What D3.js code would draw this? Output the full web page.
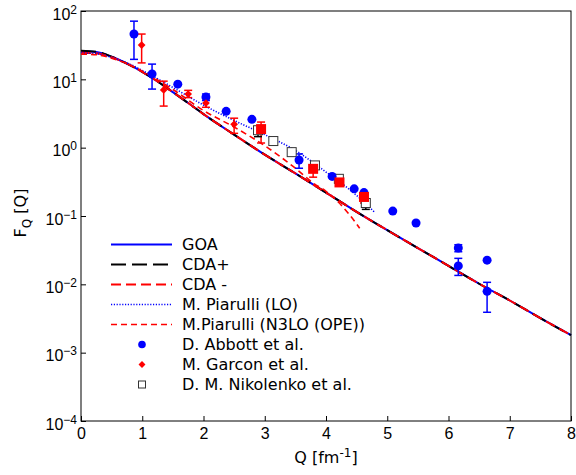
<!DOCTYPE html>
<html>
<head>
<meta charset="utf-8">
<script src="https://cdn.jsdelivr.net/npm/d3@7"></script>
<style>
  body { margin: 0; background: #fff; }
  svg { font-family: "DejaVu Sans", sans-serif; }
</style>
</head>
<body>
<svg id="area" width="576" height="475"></svg>
<script>
// theory curves
const qMain = [0, 0.25, 0.5, 0.75, 1, 1.25, 1.5, 1.75, 2, 2.5, 3, 3.5, 4, 4.5, 5, 5.5, 6, 6.5, 7, 7.5, 8];
const goa = [26.0, 25.1, 21.4, 17.0, 12.9, 9.3, 6.5, 4.5, 3.1, 1.55, 0.79, 0.42, 0.22, 0.115, 0.062, 0.034, 0.0186, 0.0102, 0.0058, 0.0032, 0.0018];
const cdaPlus = [26.3, 25.3, 21.5, 17.0, 12.9, 9.3, 6.5, 4.5, 3.1, 1.55, 0.79, 0.42, 0.22, 0.115, 0.062, 0.034, 0.0186, 0.0102, 0.0058, 0.0032, 0.0018];
const cdaMinus = [24.5, 24.0, 21.0, 17.0, 12.9, 9.3, 6.5, 4.5, 3.1, 1.55, 0.79, 0.42, 0.22, 0.115, 0.062, 0.034, 0.0186, 0.0102, 0.0058, 0.0032, 0.0018];
const qLO = [0, 0.25, 0.5, 0.75, 1, 1.5, 2, 2.5, 3, 3.5, 4, 4.5, 4.8];
const piarulliLO = [24.3, 23.7, 20.9, 17.4, 13.5, 7.6, 4.2, 2.5, 1.55, 0.91, 0.44, 0.20, 0.112];
const qN3LO = [0, 0.25, 0.5, 0.75, 1, 1.5, 2, 2.5, 3, 3.5, 3.8, 4.0, 4.2, 4.4, 4.55];
const piarulliN3LO = [23.4, 22.9, 20.4, 17.0, 13.2, 7.1, 3.5, 2.0, 1.07, 0.50, 0.30, 0.23, 0.16, 0.10, 0.066];

// data sets: Q, value, error low, error high (null = no bar)
const abbottQ   = [0.865, 1.16, 1.58, 2.04, 2.37, 2.79, 3.56, 4.10, 4.46, 4.62, 5.09, 5.47, 6.16, 6.16, 6.63, 6.63];
const abbottF   = [46, 12, 8.5, 5.5, 3.4, 2.6, 0.66, 0.38, 0.25, 0.22, 0.118, 0.079, 0.034, 0.0186, 0.0226, 0.0079];
const abbottLo  = [19.6, 7.2, null, 4.9, null, null, 0.50, null, null, null, null, null, 0.030, 0.0135, null, 0.0039];
const abbottHi  = [71, 16.7, null, 6.1, null, null, 0.81, null, null, null, null, null, 0.038, 0.024, null, 0.0107];

const garconQ  = [0.99, 1.35, 1.75, 2.04, 2.50];
const garconF  = [31.7, 7.0, 6.1, 4.5, 2.2];
const garconLo = [17.4, 4.06, 5.4, 3.9, 1.62];
const garconHi = [46, 9.4, 6.9, 5.2, 2.7];

const garconSqQ  = [2.94, 3.79, 4.22, 4.62];
const garconSqF  = [1.87, 0.49, 0.31, 0.19];
const garconSqLo = [1.17, 0.37, null, 0.155];
const garconSqHi = [2.37, 0.56, null, 0.22];

const nikoQ  = [2.89, 3.14, 3.44, 3.82, 4.21, 4.65];
const nikoF  = [1.80, 1.25, 0.86, 0.55, 0.35, 0.155];
const nikoLo = [1.45, null, null, null, null, 0.125];
const nikoHi = [null, null, null, null, null, null];

const yTicks = [-4, -3, -2, -1, 0, 1, 2];
const xTicks = [0, 1, 2, 3, 4, 5, 6, 7, 8];

const svg = d3.select("#area");
const pLeft = 81, pRight = 571, pTop = 11, pBottom = 421;

const x = d3.scaleLinear().domain([0, 8]).range([pLeft, pRight]);
const y = d3.scaleLog().domain([1e-4, 1e2]).range([pBottom, pTop]);

// axes
const xAxis = d3.axisBottom(x).tickValues(xTicks).tickSize(-5).tickPadding(7);
svg.append("g").attr("transform", "translate(0," + pBottom + ")").call(xAxis)
  .call(g => g.select(".domain").remove())
  .selectAll("text").attr("font-size", 16).attr("fill", "#000");

const yAxis = d3.axisLeft(y).tickValues(yTicks.map(e => Math.pow(10, e))).tickSize(-5).tickFormat("");
const yg = svg.append("g").attr("transform", "translate(" + pLeft + ",0)").call(yAxis);
yg.select(".domain").remove();
yg.selectAll(".tick").each(function(d, i) {
  const t = d3.select(this).append("text")
    .attr("x", -4).attr("y", 8)
    .attr("text-anchor", "end").attr("font-size", 16).attr("fill", "#000");
  const e = yTicks[i];
  t.append("tspan").text("10");
  t.append("tspan").attr("dy", -6).attr("font-size", 12).text(e < 0 ? "\u2212" + (-e) : e);
});

svg.append("rect").attr("x", pLeft).attr("y", pTop)
  .attr("width", pRight - pLeft).attr("height", pBottom - pTop)
  .attr("fill", "none").attr("stroke", "#000").attr("stroke-width", 1);

// labels
const xl = svg.append("text").attr("x", (pLeft + pRight) / 2).attr("y", 463)
  .attr("text-anchor", "middle").attr("font-size", 16);
xl.append("tspan").text("Q [fm");
xl.append("tspan").attr("dy", -6).attr("font-size", 12).text("-1");
xl.append("tspan").attr("dy", 6).text("]");

const yl = svg.append("text").attr("transform", "translate(26,213) rotate(-90)")
  .attr("text-anchor", "middle").attr("font-size", 16);
yl.append("tspan").text("F");
yl.append("tspan").attr("dy", 5).attr("font-size", 12).text("Q");
yl.append("tspan").attr("dy", -5).text(" [Q]");

const plot = svg.append("g");
const line = d3.line().x(d => x(d[0])).y(d => y(d[1])).curve(d3.curveMonotoneX);
const zip = (a, b) => a.map((v, i) => [v, b[i]]);

const curves = [
  { name: "GOA", q: qMain, f: goa, color: "#0000ff", width: 2, dash: null },
  { name: "CDA+", q: qMain, f: cdaPlus, color: "#000", width: 2, dash: "15,6" },
  { name: "CDA -", q: qMain, f: cdaMinus, color: "#ff0000", width: 2, dash: "10,5" },
  { name: "M. Piarulli (LO)", q: qLO, f: piarulliLO, color: "#0000ff", width: 1.6, dash: "1.2,1.6" },
  { name: "M.Piarulli (N3LO (OPE))", q: qN3LO, f: piarulliN3LO, color: "#ff0000", width: 1.6, dash: "6,4" }
];
curves.forEach(c => {
  plot.append("path").datum(zip(c.q, c.f)).attr("d", line)
    .attr("fill", "none").attr("stroke", c.color).attr("stroke-width", c.width)
    .attr("stroke-dasharray", c.dash);
});

// error bars
function errBars(qs, lo, hi, vals, color) {
  qs.forEach((q, i) => {
    const l = lo[i] == null ? vals[i] : lo[i];
    const h = hi[i] == null ? vals[i] : hi[i];
    if (l === h) return;
    const cx = x(q);
    plot.append("line").attr("x1", cx).attr("x2", cx).attr("y1", y(l)).attr("y2", y(h))
      .attr("stroke", color).attr("stroke-width", 1.5);
    [l, h].forEach(v => {
      if (v === vals[i]) return;
      plot.append("line").attr("x1", cx - 4).attr("x2", cx + 4).attr("y1", y(v)).attr("y2", y(v))
        .attr("stroke", color).attr("stroke-width", 1.5);
    });
  });
}
errBars(abbottQ, abbottLo, abbottHi, abbottF, "#0000ff");
errBars(garconQ, garconLo, garconHi, garconF, "#ff0000");
errBars(garconSqQ, garconSqLo, garconSqHi, garconSqF, "#ff0000");
errBars(nikoQ, nikoLo, nikoHi, nikoF, "#000");

plot.selectAll(".niko").data(zip(nikoQ, nikoF)).join("rect")
  .attr("x", d => x(d[0]) - 4.5).attr("y", d => y(d[1]) - 4.5)
  .attr("width", 9).attr("height", 9)
  .attr("fill", "#fff").attr("stroke", "#333").attr("stroke-width", 1);
plot.selectAll(".abbott").data(zip(abbottQ, abbottF)).join("circle")
  .attr("cx", d => x(d[0])).attr("cy", d => y(d[1])).attr("r", 4.5)
  .attr("fill", "#0000ff");
plot.selectAll(".garsq").data(zip(garconSqQ, garconSqF)).join("rect")
  .attr("x", d => x(d[0]) - 5).attr("y", d => y(d[1]) - 5)
  .attr("width", 10).attr("height", 10).attr("fill", "#ff0000");
plot.selectAll(".garcon").data(zip(garconQ, garconF)).join("path")
  .attr("transform", d => "translate(" + x(d[0]) + "," + y(d[1]) + ") rotate(45)")
  .attr("d", d3.symbol().type(d3.symbolSquare).size(30)).attr("fill", "#ff0000");

// legend
const lg = svg.append("g");
const rowY = i => 244.5 + i * 20;
curves.forEach((c, i) => {
  lg.append("line").attr("x1", 111).attr("x2", 172).attr("y1", rowY(i)).attr("y2", rowY(i))
    .attr("stroke", c.color).attr("stroke-width", c.width).attr("stroke-dasharray", c.dash);
  lg.append("text").attr("x", 182).attr("y", rowY(i)).attr("dy", "0.36em")
    .attr("font-size", 16).text(c.name);
});
lg.append("circle").attr("cx", 142).attr("cy", rowY(5)).attr("r", 3.8).attr("fill", "#0000ff");
lg.append("text").attr("x", 182).attr("y", rowY(5)).attr("dy", "0.36em").attr("font-size", 16).text("D. Abbott et al.");
lg.append("path").attr("transform", "translate(142," + rowY(6) + ") rotate(45)")
  .attr("d", d3.symbol().type(d3.symbolSquare).size(24)).attr("fill", "#ff0000");
lg.append("text").attr("x", 182).attr("y", rowY(6)).attr("dy", "0.36em").attr("font-size", 16).text("M. Garcon et al.");
lg.append("rect").attr("x", 138.5).attr("y", rowY(7) - 3.5).attr("width", 7).attr("height", 7)
  .attr("fill", "#fff").attr("stroke", "#333");
lg.append("text").attr("x", 182).attr("y", rowY(7)).attr("dy", "0.36em").attr("font-size", 16).text("D. M. Nikolenko et al.");
</script>
</body>
</html>
